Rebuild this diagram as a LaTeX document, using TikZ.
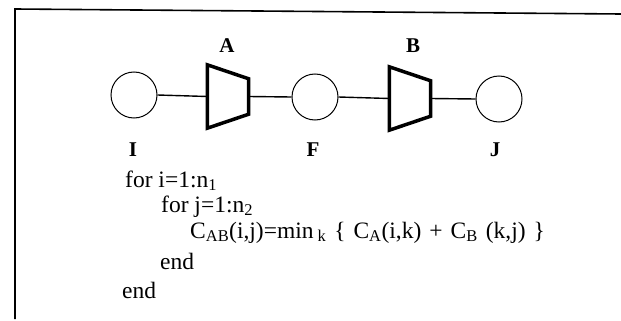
\documentclass[tikz,border=0pt]{standalone}
\usepackage{fontspec}
\setmainfont{Liberation Serif}
\usetikzlibrary{calc}

\tikzset{
  stage/.style={circle,draw,line width=1pt,minimum size=46pt,inner sep=0pt},
  mixer/.style={rectangle,minimum width=41pt,minimum height=63pt,inner sep=0pt},
  tag/.style={font=\fontsize{21}{21}\selectfont\bfseries},
  code/.style={anchor=base west,inner sep=0pt,font=\fontsize{23.5}{23.5}\selectfont}
}
\newcommand{\trapez}[2]{%
  \draw[line width=3.5pt,line join=miter] (#1.north west) -- ($(#1.north east)+(0,#2)$)
    -- ($(#1.south east)-(0,#2)$) -- (#1.south west) -- cycle;}

\begin{document}
\begin{tikzpicture}[x=1pt,y=-1pt]
\useasboundingbox (0,0) rectangle (621,321);
% frame
\draw[line width=1.6pt] (15,319) -- (15,9) -- (621,14);
% stages
\node[stage] (I) at (134,95) {};
\node[stage] (F) at (315,97) {};
\node[stage] (J) at (499,99) {};
\node[mixer] (A) at (228,96.5) {};
\node[mixer] (B) at (410,98.5) {};
\trapez{A}{14}
\trapez{B}{14}
\draw[line width=1.4pt] (I.east) -- (A.west);
\draw[line width=1.4pt] (A.east) -- (F.west);
\draw[line width=1.4pt] (F.east) -- (B.west);
\draw[line width=1.4pt] (B.east) -- (J.west);
% labels
\node[tag] (la) at (227,46) {A};
\node[tag] (lb) at (413,46) {B};
\node[tag] (li) at (133,150) {I};
\node[tag] (lf) at (313,150) {F};
\node[tag] (lj) at (495,150) {J};
% loop
\node[code] (l1) at (125,187) {for i=1:n\textsubscript{1}};
\node[code] (l2) at (161,212) {for j=1:n\textsubscript{2}};
\node[code] (l3) at (190,238) {\spaceskip=8pt C\textsubscript{AB}(i,j)=min\,\textsubscript{k} \{ C\textsubscript{A}(i,k) + C\textsubscript{B} (k,j) \}};
\node[code] (l4) at (160,269) {end};
\node[code] (l5) at (122,298) {end};
\end{tikzpicture}
\end{document}
